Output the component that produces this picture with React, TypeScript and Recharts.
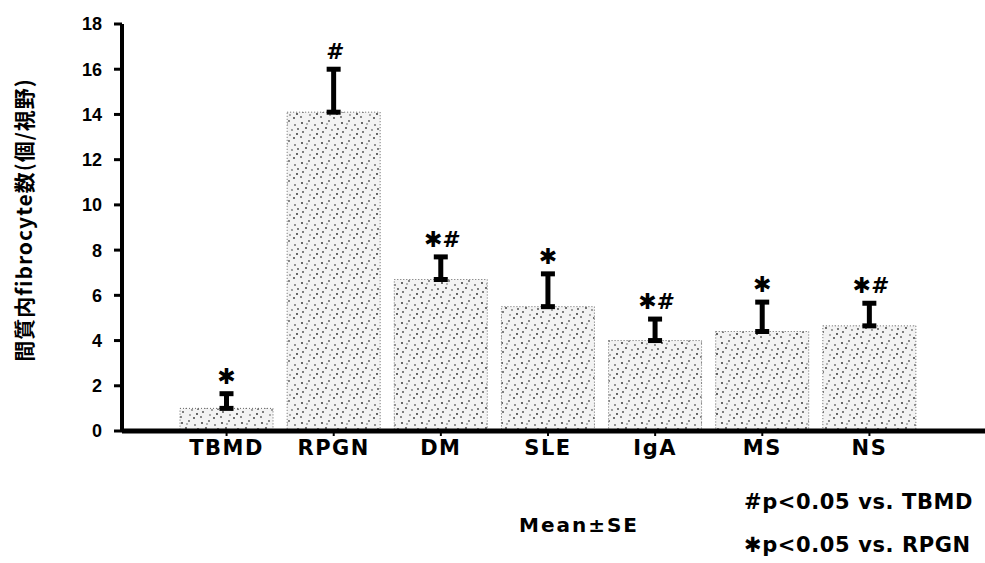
import { BarChart, Bar, XAxis, YAxis, ErrorBar, LabelList } from "recharts"

const groups = ["TBMD", "RPGN", "DM", "SLE", "IgA", "MS", "NS"]
const means = [1.0, 14.1, 6.7, 5.5, 4.0, 4.4, 4.65]
const errors = [0.65, 1.9, 1.0, 1.45, 0.95, 1.3, 1.0]
const marks = ["✱", "#", "✱#", "✱", "✱#", "✱", "✱#"]
const yTicks = [0, 2, 4, 6, 8, 10, 12, 14, 16, 18]

const data = groups.map((g, i) => ({
  name: g,
  mean: means[i],
  err: [0, errors[i]],
  mark: marks[i],
}))

const boldText = { fontFamily: "DejaVu Sans", fontWeight: 700, fill: "#000" }

// speckle positions for the bar texture
const dots = [
  [2, 3, "#222"], [9, 1, "#555"], [6, 8, "#333"], [12, 10, "#777"],
  [3, 12, "#444"], [15, 5, "#666"], [17, 14, "#222"], [10, 15, "#888"],
  [1, 17, "#555"], [14, 18, "#333"], [7, 4, "#999"], [18, 9, "#444"],
]

function MarkLabel(props: any) {
  const { x, y, width, height, value, index } = props
  if (!value) return null
  // pixel per unit from the bar itself, so the mark sits above the error bar
  const perUnit = height / value
  const top = y - errors[index] * perUnit
  return (
    <text x={x + width / 2} y={top - 10} textAnchor="middle" fontSize={22} fontStyle="italic" {...boldText}>
      {marks[index]}
    </text>
  )
}

const noteStyle: React.CSSProperties = {
  position: "absolute",
  whiteSpace: "nowrap",
  fontFamily: "DejaVu Sans",
  fontWeight: 700,
  fontSize: 21,
  letterSpacing: 0.6,
  color: "#000",
}

export default function App() {
  return (
    <div style={{ position: "absolute", left: 0, top: 0, width: 985, height: 563, background: "#fff" }}>
      <BarChart
        width={985}
        height={563}
        data={data}
        margin={{ top: 24, right: 0, bottom: 102, left: 10 }}
        barSize={93}
      >
        <defs>
          <pattern id="stipple" width="20" height="20" patternUnits="userSpaceOnUse">
            <rect width="20" height="20" fill="#f3f3f3" />
            {dots.map(([cx, cy, c], i) => (
              <circle key={i} cx={cx as number} cy={cy as number} r={0.9} fill={c as string} />
            ))}
          </pattern>
        </defs>
        <XAxis
          dataKey="name"
          padding={{ left: 51, right: 62 }}
          axisLine={{ stroke: "#000", strokeWidth: 5 }}
          tickLine={{ stroke: "#000", strokeWidth: 2 }}
          tickSize={5}
          tickMargin={4}
          height={30}
          tick={{ fontSize: 21, letterSpacing: 1.5, ...boldText }}
          interval={0}
        />
        <YAxis
          domain={[0, 18]}
          ticks={yTicks}
          width={112}
          axisLine={{ stroke: "#000", strokeWidth: 4 }}
          tickLine={{ stroke: "#000", strokeWidth: 3 }}
          tickSize={8}
          tickMargin={12}
          tick={{ fontSize: 18, fontFamily: "Liberation Sans", fontWeight: 700, fill: "#000" }}
        />
        <Bar
          dataKey="mean"
          fill="url(#stipple)"
          stroke="#666"
          strokeWidth={1}
          strokeDasharray="1 2"
          isAnimationActive={false}
        >
          <ErrorBar dataKey="err" direction="y" width={7} strokeWidth={5} stroke="#000" />
          <LabelList dataKey="mean" content={<MarkLabel />} />
        </Bar>
      </BarChart>

      <div
        style={{
          position: "absolute",
          left: 23,
          top: 220,
          transform: "translate(-50%, -50%) rotate(-90deg)",
          whiteSpace: "nowrap",
          fontFamily: "Noto Sans CJK JP",
          fontWeight: 700,
          fontSize: 21,
          letterSpacing: 1,
          color: "#000",
        }}
      >
        間質内fibrocyte数(個/視野)
      </div>

      <div style={{ ...noteStyle, left: 579, top: 525, transform: "translate(-50%, -50%)", fontSize: 20, letterSpacing: 2 }}>
        Mean±SE
      </div>
      <div style={{ ...noteStyle, left: 744, top: 502, transform: "translateY(-50%)" }}>
        #p&lt;0.05 vs. TBMD
      </div>
      <div style={{ ...noteStyle, left: 744, top: 545, transform: "translateY(-50%)" }}>
        ✱p&lt;0.05 vs. RPGN
      </div>
    </div>
  )
}
